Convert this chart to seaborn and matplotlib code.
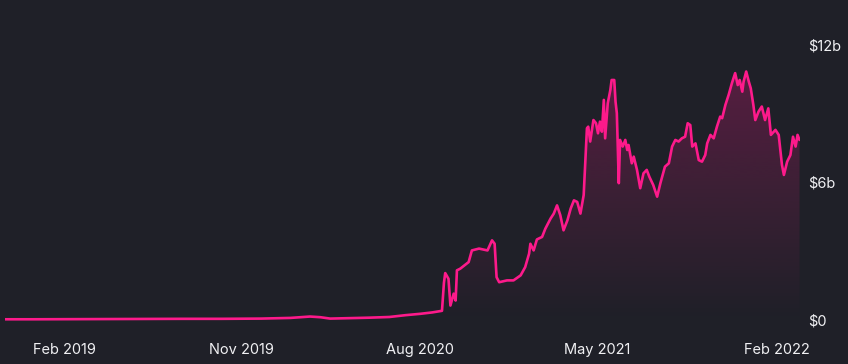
import matplotlib
matplotlib.use("Agg")
import matplotlib.pyplot as plt
import matplotlib.dates as mdates
from matplotlib.patches import Polygon
import seaborn as sns
import numpy as np
import pandas as pd

# ---------------- data (TVL in billions USD) ----------------
dates = [
    "2018-11-01", "2018-12-15", "2019-02-01", "2019-04-01", "2019-06-01",
    "2019-08-01", "2019-10-01", "2019-12-01", "2020-01-15", "2020-01-29",
    "2020-02-14", "2020-03-01", "2020-03-16", "2020-04-15", "2020-05-15",
    "2020-06-15", "2020-07-10", "2020-08-02", "2020-08-20", "2020-09-04",
    "2020-09-07", "2020-09-09", "2020-09-14", "2020-09-17", "2020-09-22",
    "2020-09-25", "2020-09-27", "2020-10-02", "2020-10-15", "2020-10-20",
    "2020-10-31", "2020-11-13", "2020-11-20", "2020-11-24", "2020-11-27",
    "2020-12-01", "2020-12-13", "2020-12-23", "2021-01-03", "2021-01-10",
    "2021-01-16", "2021-01-18", "2021-01-23", "2021-01-28", "2021-02-05",
    "2021-02-10", "2021-02-18", "2021-02-23", "2021-02-28", "2021-03-05",
    "2021-03-10", "2021-03-16", "2021-03-21", "2021-03-26", "2021-03-31",
    "2021-04-05", "2021-04-10", "2021-04-15", "2021-04-17", "2021-04-20",
    "2021-04-25", "2021-04-29", "2021-05-02", "2021-05-05", "2021-05-08",
    "2021-05-11", "2021-05-13", "2021-05-17", "2021-05-21", "2021-05-23",
    "2021-05-27", "2021-05-29", "2021-05-31", "2021-06-03", "2021-06-05",
    "2021-06-09", "2021-06-13", "2021-06-16", "2021-06-18", "2021-06-23",
    "2021-06-26", "2021-07-01", "2021-07-06", "2021-07-11", "2021-07-16",
    "2021-07-20", "2021-07-26", "2021-08-01", "2021-08-06", "2021-08-13",
    "2021-08-19", "2021-08-24", "2021-08-29", "2021-09-03", "2021-09-08",
    "2021-09-13", "2021-09-17", "2021-09-21", "2021-09-24", "2021-09-29",
    "2021-10-04", "2021-10-09", "2021-10-14", "2021-10-17", "2021-10-22",
    "2021-10-27", "2021-11-01", "2021-11-06", "2021-11-09", "2021-11-14",
    "2021-11-19", "2021-11-24", "2021-11-29", "2021-12-03", "2021-12-06",
    "2021-12-10", "2021-12-12", "2021-12-16", "2021-12-20", "2021-12-23",
    "2021-12-27", "2021-12-30", "2022-01-04", "2022-01-09", "2022-01-14",
    "2022-01-19", "2022-01-23", "2022-01-30", "2022-02-04", "2022-02-09",
    "2022-02-12", "2022-02-17", "2022-02-22", "2022-02-26", "2022-03-02",
    "2022-03-05", "2022-03-08",
]
tvl_billions = [
    0.01, 0.01, 0.015, 0.02, 0.025,
    0.03, 0.03, 0.04, 0.07, 0.10,
    0.13, 0.10, 0.04, 0.06, 0.08,
    0.11, 0.19, 0.25, 0.31, 0.38,
    1.60, 2.03, 1.78, 0.61, 1.13,
    0.83, 2.15, 2.22, 2.51, 3.02,
    3.10, 3.02, 3.46, 3.31, 1.85,
    1.63, 1.71, 1.71, 1.93, 2.29,
    2.88, 3.31, 3.02, 3.50, 3.61,
    3.97, 4.41, 4.63, 4.99, 4.56,
    3.90, 4.34, 4.85, 5.21, 5.14,
    4.63, 5.44, 8.36, 8.43, 7.78,
    8.72, 8.58, 8.14, 8.65, 8.21,
    9.60, 7.92, 9.45, 10.03, 10.47,
    10.47, 9.52, 9.02, 5.96, 7.85,
    7.56, 7.85, 7.41, 7.63, 6.83,
    7.12, 6.54, 5.74, 6.39, 6.54,
    6.24, 5.88, 5.37, 5.96, 6.68,
    6.83, 7.56, 7.85, 7.78, 7.92,
    7.99, 8.58, 8.50, 7.56, 7.70,
    6.97, 6.90, 7.19, 7.70, 8.07,
    7.92, 8.43, 8.87, 8.80, 9.38,
    9.82, 10.33, 10.77, 10.25, 10.47,
    9.96, 10.40, 10.84, 10.40, 10.11,
    9.38, 8.72, 9.09, 9.31, 8.72,
    9.23, 8.07, 8.29, 8.07, 6.76,
    6.32, 6.90, 7.19, 7.99, 7.56,
    8.07, 7.85,
]
x_tick_dates = ["2019-02-01", "2019-11-01", "2020-08-01", "2021-05-01", "2022-02-01"]
x_tick_labels = ["Feb 2019", "Nov 2019", "Aug 2020", "May 2021", "Feb 2022"]
y_tick_values = [0, 6, 12]
y_tick_labels = ["$0", "$6b", "$12b"]

# ---------------- style ----------------
BG = "#1f2028"
LINE = "#fd1a8b"
TXT = "#f0f0f3"

sns.set_theme(style="dark", rc={"axes.facecolor": BG, "figure.facecolor": BG,
                                "axes.grid": False})
plt.rcParams["font.family"] = ["Inter", "DejaVu Sans"]

df = pd.DataFrame({"date": pd.to_datetime(dates), "tvl": tvl_billions})

fig = plt.figure(figsize=(8.48, 3.64), dpi=100, facecolor=BG)
ax = fig.add_axes([4.5 / 848, 39 / 364, 795 / 848, 315 / 364])
ax.set_facecolor(BG)

sns.lineplot(data=df, x="date", y="tvl", ax=ax, color=LINE, linewidth=1.9,
             zorder=3)

# gradient fill under the line
xnum = mdates.date2num(df["date"])
ylo, yhi = -0.24, 13.53
grad_top = 12.0
alpha = np.linspace(0, 0.28, 256).reshape(-1, 1)
rgb = matplotlib.colors.to_rgb(LINE)
img = np.zeros((256, 1, 4))
img[..., 0], img[..., 1], img[..., 2] = rgb
img[..., 3] = alpha
im = ax.imshow(img, extent=[xnum[0], xnum[-1], 0, grad_top], origin="lower",
               aspect="auto", zorder=2, interpolation="bicubic")
verts = [(xnum[0], 0)] + list(zip(xnum, df["tvl"])) + [(xnum[-1], 0)]
poly = Polygon(verts, closed=True, facecolor="none", edgecolor="none")
ax.add_patch(poly)
im.set_clip_path(poly)

ax.set_xlim(xnum[0], xnum[-1])
ax.set_ylim(ylo, yhi)

ax.set_xticks(mdates.date2num(pd.to_datetime(x_tick_dates)))
ax.set_xticklabels(x_tick_labels)
ax.yaxis.tick_right()
ax.set_yticks(y_tick_values)
ax.set_yticklabels(y_tick_labels)
ax.tick_params(axis="x", length=0, pad=13, labelsize=10.5, colors=TXT)
ax.tick_params(axis="y", length=0, pad=6, labelsize=10.5, colors=TXT)
ax.set_xlabel("")
ax.set_ylabel("")
for s in ax.spines.values():
    s.set_visible(False)
ax.grid(False)

fig.savefig("out.png", dpi=100, facecolor=BG)
